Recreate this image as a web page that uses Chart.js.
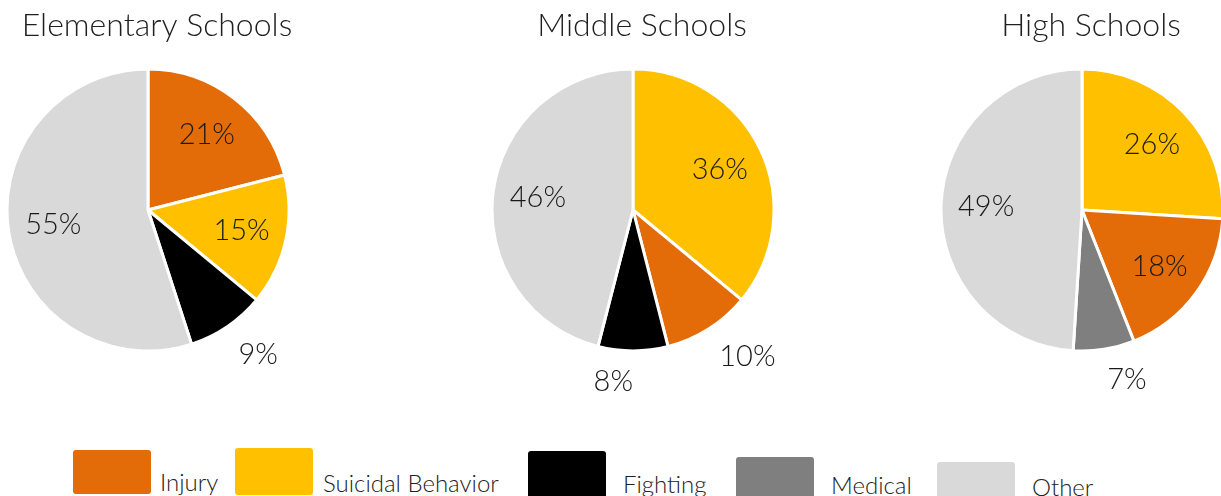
<!DOCTYPE html>
<html>
<head>
<meta charset="utf-8">
<script src="https://cdn.jsdelivr.net/npm/chart.js@4.4.0/dist/chart.umd.min.js"></script>
<style>
  html, body { margin: 0; padding: 0; background: #fff; width: 1221px; height: 496px; overflow: hidden; position: relative; }
  .pie { position: absolute; top: 0; }
  .swatch { position: absolute; width: 78px; border-radius: 3px; }
  .legend-text { position: absolute; font: 300 24px Lato, sans-serif; color: #222; white-space: nowrap; line-height: 1; }
</style>
</head>
<body>
<canvas id="elementary" class="pie" width="300" height="420" style="left:7px"></canvas>
<canvas id="middle" class="pie" width="300" height="420" style="left:492px"></canvas>
<canvas id="high" class="pie" width="300" height="420" style="left:941px"></canvas>
<div id="legend"></div>
<script>
// categories and their colours
const categories = ['Injury', 'Suicidal Behavior', 'Fighting', 'Medical', 'Other'];
const categoryColors = ['#E36C09', '#FFC000', '#000000', '#7F7F7F', '#D9D9D9'];

// each school level lists its slices clockwise from 12 o'clock
const elementaryLabels = ['Injury', 'Suicidal Behavior', 'Fighting', 'Other'];
const elementaryValues = [21, 15, 9, 55];

const middleLabels = ['Suicidal Behavior', 'Injury', 'Fighting', 'Other'];
const middleValues = [36, 10, 8, 46];

const highLabels = ['Suicidal Behavior', 'Injury', 'Medical', 'Other'];
const highValues = [26, 18, 7, 49];

const FONT = 'Lato, sans-serif';

function colorOf(name) {
    return categoryColors[categories.indexOf(name)];
}

// title drawn centred on the canvas (the pie itself sits a little left of it)
const pieTitle = {
    id: 'pieTitle',
    afterDraw(chart, args, opts) {
        const ctx = chart.ctx;
        ctx.save();
        ctx.font = '300 32px ' + FONT;
        ctx.fillStyle = '#1f1f1f';
        ctx.textAlign = 'center';
        ctx.textBaseline = 'alphabetic';
        ctx.fillText(opts.text, chart.width / 2, 35.5);
        ctx.restore();
    }
};

// percent labels: inside the big slices, just outside the small ones
const sliceLabels = {
    id: 'sliceLabels',
    afterDatasetsDraw(chart) {
        const ctx = chart.ctx;
        const values = chart.data.datasets[0].data;
        const arcs = chart.getDatasetMeta(0).data;
        ctx.save();
        ctx.font = '300 29px ' + FONT;
        ctx.fillStyle = '#1a1a1a';
        ctx.textAlign = 'center';
        ctx.textBaseline = 'middle';
        arcs.forEach((arc, i) => {
            const p = arc.getProps(['x', 'y', 'startAngle', 'endAngle', 'outerRadius'], true);
            const mid = (p.startAngle + p.endAngle) / 2;
            const dx = Math.cos(mid), dy = Math.sin(mid);
            const text = values[i] + '%';
            let x, y;
            if (values[i] < 12) {
                // box sits just beyond the rim, on the side the slice points to
                const w = ctx.measureText(text).width, h = 22, gap = 20;
                x = p.x + dx * (p.outerRadius + gap) + (dx > 0.05 ? w / 2 : -w / 2);
                y = p.y + dy * (p.outerRadius + gap) + (dy > 0 ? h / 2 : -h / 2);
            } else {
                x = p.x + dx * p.outerRadius * 0.68;
                y = p.y + dy * p.outerRadius * 0.68;
            }
            ctx.fillText(text, x, y);
        });
        ctx.restore();
    }
};

function makePie(id, title, labels, values) {
    new Chart(document.getElementById(id), {
        type: 'pie',
        data: {
            labels: labels,
            datasets: [{
                data: values,
                backgroundColor: labels.map(colorOf),
                borderColor: '#ffffff',
                borderWidth: 3
            }]
        },
        options: {
            responsive: false,
            animation: false,
            devicePixelRatio: 1,
            radius: 141,
            layout: { padding: { top: 62, right: 18, bottom: 62 } },
            plugins: {
                legend: { display: false },
                tooltip: { enabled: false },
                title: { display: false },
                pieTitle: { text: title }
            }
        },
        plugins: [pieTitle, sliceLabels]
    });
}

makePie('elementary', 'Elementary Schools', elementaryLabels, elementaryValues);
makePie('middle', 'Middle Schools', middleLabels, middleValues);
makePie('high', 'High Schools', highLabels, highValues);

// legend along the bottom: box left/top/height, text left/baseline
const legendSpots = [
    { box: [73, 450, 44], text: [160, 491] },
    { box: [235, 448, 47], text: [323, 492] },
    { box: [528, 451, 48], text: [623, 493] },
    { box: [736, 457, 48], text: [831, 494] },
    { box: [937, 462, 48], text: [1032, 496] }
];
const legend = document.getElementById('legend');
categories.forEach((name, i) => {
    const spot = legendSpots[i];
    const box = document.createElement('div');
    box.className = 'swatch';
    box.style.left = spot.box[0] + 'px';
    box.style.top = spot.box[1] + 'px';
    box.style.height = spot.box[2] + 'px';
    box.style.background = categoryColors[i];
    legend.appendChild(box);
    const txt = document.createElement('div');
    txt.className = 'legend-text';
    txt.textContent = name;
    txt.style.left = spot.text[0] + 'px';
    txt.style.top = (spot.text[1] - 21) + 'px';
    legend.appendChild(txt);
});
</script>
</body>
</html>
